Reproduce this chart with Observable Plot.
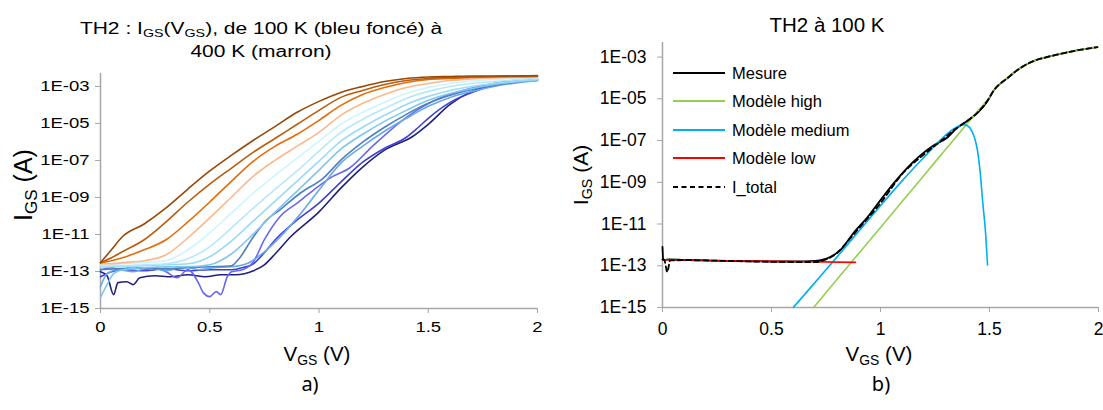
<!DOCTYPE html>
<html>
<head>
<meta charset="utf-8">
<script src="https://cdn.jsdelivr.net/npm/d3@7"></script>
<script src="https://cdn.jsdelivr.net/npm/@observablehq/plot@0.6"></script>
<style>
  body { margin: 0; background: #fff; }
  #wrap { position: relative; width: 1103px; height: 410px; overflow: hidden; font-family: "Liberation Sans", Arial, sans-serif; color: #000; background: #fff; }
  .abs { position: absolute; white-space: nowrap; }
  .sub { font-size: 0.68em; position: relative; top: 0.3em; }
  .ctr { transform: translate(-50%, -50%); }
</style>
</head>
<body>
<div id="wrap">
  <div id="chartA" class="abs" style="left:0;top:0"></div>
  <div id="chartB" class="abs" style="left:551px;top:0"></div>

  <div class="abs" style="left:261px;top:39.5px;font-size:21px;line-height:28px;text-align:center;transform:translate(-50%,-50%) scale(1,0.78)">TH2 : I<span class="sub">GS</span>(V<span class="sub">GS</span>), de 100 K (bleu foncé) à<br>400 K (marron)</div>
  <div class="abs ctr" style="left:827px;top:25px;font-size:20.5px">TH2 à 100 K</div>

  <div class="abs" style="left:23px;top:185px;font-size:25px;transform:translate(-50%,-50%) rotate(-90deg)">I<span class="sub">GS</span> (A)</div>
  <div class="abs" style="left:581px;top:175px;font-size:21px;transform:translate(-50%,-50%) rotate(-90deg)">I<span class="sub">GS</span> (A)</div>

  <div class="abs ctr" style="left:317px;top:354px;font-size:20.5px">V<span class="sub">GS</span> (V)</div>
  <div class="abs ctr" style="left:879px;top:354px;font-size:20.5px">V<span class="sub">GS</span> (V)</div>

  <div class="abs ctr" style="left:310px;top:383px;font-size:20px;font-family:'Noto Sans',sans-serif">a)</div>
  <div class="abs ctr" style="left:881px;top:383px;font-size:20px;font-family:'Noto Sans',sans-serif">b)</div>

  <div id="legendB"></div>
</div>
<script>
// ---------- axis ticks ----------
const xTickValues = [0, 0.5, 1, 1.5, 2];
const xTickLabels = ["0", "0.5", "1", "1.5", "2"];
const yTickValues = [1e-15, 1e-13, 1e-11, 1e-9, 1e-7, 1e-5, 1e-3];
const yTickLabels = ["1E-15", "1E-13", "1E-11", "1E-09", "1E-07", "1E-05", "1E-03"];

// ---------- chart a) : IGS(VGS) from 100 K to 400 K ----------
const temperaturesK = [100, 125, 150, 175, 200, 225, 250, 275, 300, 325, 350, 375, 400];

const vGrid = [0, 0.05, 0.1, 0.2, 0.3, 0.4, 0.5, 0.6, 0.7, 0.8, 0.9, 1.0, 1.1, 1.2, 1.3, 1.4, 1.5, 1.6, 1.7, 1.8, 2.0];

const V_100K = [0, 0.03, 0.06, 0.08, 0.12, 0.15, 0.18, 0.25, 0.32, 0.4, 0.48, 0.55, 0.62, 0.7, 0.75, 0.8, 0.87, 1.0, 1.1, 1.2, 1.3, 1.43, 1.5, 1.6, 1.7, 1.8, 1.9, 2.0];
const I_100K = [9.8e-14, 5.9e-14, 5.6e-15, 2.5e-14, 2.8e-14, 1.95e-14, 4.6e-14, 5.9e-14, 5.2e-14, 6.7e-14, 5.2e-14, 6.7e-14, 6.7e-14, 1.1e-13, 2.3e-13, 9.1e-13, 7.5e-12, 1.66e-10, 3.2e-9, 4.4e-8, 3.6e-7, 2.04e-6, 9.0e-6, 1.07e-4, 5.4e-4, 1.28e-3, 1.86e-3, 2.38e-3];

const V_125K = [0, 0.05, 0.1, 0.2, 0.3, 0.4, 0.5, 0.6, 0.65, 0.7, 0.75, 0.8, 0.9, 1.0, 1.1, 1.2, 1.3, 1.4, 1.45, 1.5, 1.6, 1.7, 1.8, 2.0];
const I_125K = [5.2e-14, 9.8e-14, 1.25e-13, 1.1e-13, 1.42e-13, 1.1e-13, 1.25e-13, 1.25e-13, 1.6e-13, 2.6e-13, 1.03e-12, 5.2e-12, 6.1e-11, 5.0e-10, 6.8e-9, 8.1e-8, 4.6e-7, 1.8e-6, 5.5e-6, 1.9e-5, 1.38e-4, 4.75e-4, 1.13e-3, 2.1e-3];

const V_150K = [0, 0.05, 0.1, 0.15, 0.2, 0.25, 0.3, 0.35, 0.4, 0.45, 0.47, 0.5, 0.53, 0.55, 0.58, 0.6, 0.65, 0.7, 0.75, 0.82, 0.9, 0.975, 1.05, 1.14, 1.25, 1.4, 1.56, 1.71, 1.85, 2.0];
const I_150K = [1.25e-13, 1.6e-13, 1.25e-13, 2.05e-13, 1.25e-13, 1.6e-13, 9.8e-14, 4.6e-14, 1.25e-13, 2.2e-14, 7.2e-15, 4.4e-15, 8.2e-15, 5.6e-15, 5.2e-14, 9.8e-14, 1.25e-13, 3.4e-13, 5.2e-12, 8.9e-11, 5.0e-10, 2.5e-9, 1.12e-8, 3.9e-8, 6.7e-7, 2.15e-5, 2.56e-4, 8.8e-4, 1.86e-3, 2.7e-3];

const V_175K = [0, 0.03, 0.08, 0.15, 0.22, 0.3, 0.38, 0.45, 0.52, 0.6, 0.68, 0.75, 0.8, 0.9, 1.0, 1.1, 1.2, 1.3, 1.4, 1.5, 1.6, 1.7, 1.8, 2.0];
const I_175K = [1.52e-14, 7.6e-14, 1.25e-13, 9.8e-14, 1.6e-13, 1.1e-13, 1.8e-13, 1.25e-13, 1.6e-13, 1.8e-13, 3.0e-13, 1.16e-12, 4.0e-12, 7.9e-11, 2.5e-9, 7.2e-8, 5.9e-7, 3.8e-6, 1.9e-5, 8.4e-5, 2.56e-4, 5.4e-4, 1.0e-3, 2.1e-3];

const V_200K = [0, 0.1, 0.2, 0.3, 0.4, 0.5, 0.6, 0.63, 0.7, 0.76, 0.82, 0.915, 1.02, 1.1, 1.2, 1.3, 1.4, 1.5, 1.6, 1.7, 1.8, 2.0];
const I_200K = [1.25e-13, 1.42e-13, 1.6e-13, 1.42e-13, 1.6e-13, 1.8e-13, 2.05e-13, 4.3e-13, 7.5e-12, 6.1e-11, 2.1e-10, 1.74e-9, 1.12e-8, 1.04e-7, 9.7e-7, 6.2e-6, 3.1e-5, 1.22e-4, 3.3e-4, 6.9e-4, 1.13e-3, 2.38e-3];

const V_225K = [0, 0.03, 0.06, 0.1, 0.2, 0.3, 0.4, 0.5, 0.6, 0.7, 0.8, 0.9, 1.0, 1.1, 1.2, 1.3, 1.4, 1.5, 1.6, 1.7, 1.8, 2.0];
const I_225K = [3.9e-15, 1.95e-14, 7.6e-14, 1.25e-13, 1.6e-13, 1.8e-13, 1.8e-13, 2.3e-13, 9.1e-13, 1.08e-11, 1.66e-10, 2.2e-9, 3.0e-8, 4.1e-7, 2.6e-6, 1.3e-5, 5.1e-5, 1.77e-4, 4.2e-4, 7.8e-4, 1.28e-3, 2.24e-3];

const I_250K = [1.8e-13, 1.8e-13, 1.8e-13, 2.05e-13, 2.3e-13, 2.6e-13, 6.3e-13, 4.5e-12, 5.4e-11, 6.5e-10, 7.7e-9, 9.2e-8, 1.1e-6, 6.2e-6, 2.75e-5, 1.07e-4, 2.9e-4, 6.1e-4, 1.0e-3, 1.45e-3, 2.38e-3];
const I_275K = [2.05e-13, 2.05e-13, 2.05e-13, 2.3e-13, 2.6e-13, 4.9e-13, 2.16e-12, 2.3e-11, 2.7e-10, 2.86e-9, 2.7e-8, 3.2e-7, 3.3e-6, 1.67e-5, 6.5e-5, 2.26e-4, 5.4e-4, 1.0e-3, 1.45e-3, 1.86e-3, 2.7e-3];
const I_300K = [2.3e-13, 2.3e-13, 2.6e-13, 3.0e-13, 3.8e-13, 1.49e-12, 1.22e-11, 1.46e-10, 1.74e-9, 1.62e-8, 1.33e-7, 1.1e-6, 9.0e-6, 4.0e-5, 1.38e-4, 4.2e-4, 8.8e-4, 1.45e-3, 1.98e-3, 2.38e-3, 3.05e-3];
const I_325K = [2.6e-13, 2.6e-13, 3.0e-13, 3.8e-13, 8.0e-13, 6.6e-12, 7.9e-11, 1.06e-9, 1.43e-8, 1.04e-7, 5.9e-7, 3.3e-6, 2.75e-5, 1.22e-4, 3.7e-4, 8.8e-4, 1.45e-3, 2.1e-3, 2.54e-3, 2.86e-3, 3.25e-3];
const I_350K = [3.0e-13, 3.8e-13, 5.5e-13, 1.49e-12, 5.2e-12, 4.8e-11, 5.7e-10, 7.7e-9, 9.2e-8, 5.9e-7, 2.6e-6, 1.48e-5, 9.5e-5, 3.7e-4, 8.8e-4, 1.64e-3, 2.38e-3, 2.7e-3, 3.05e-3, 3.25e-3, 3.45e-3];
const I_375K = [3.0e-13, 5.5e-13, 1.16e-12, 5.2e-12, 4.8e-11, 5.7e-10, 5.3e-9, 3.9e-8, 2.8e-7, 1.59e-6, 9.0e-6, 5.1e-5, 2.56e-4, 6.1e-4, 1.28e-3, 2.1e-3, 2.7e-3, 3.05e-3, 3.25e-3, 3.45e-3, 3.65e-3];
const I_400K = [3.0e-13, 1.49e-12, 7.5e-12, 3.7e-11, 2.7e-10, 2.86e-9, 2.7e-8, 1.93e-7, 1.24e-6, 7.0e-6, 4.0e-5, 1.56e-4, 4.75e-4, 1.0e-3, 1.86e-3, 2.7e-3, 3.25e-3, 3.45e-3, 3.65e-3, 3.65e-3, 3.9e-3];

const curveColors = ["#20207f", "#4141cf", "#6767f2", "#68a8ee", "#4f81bd", "#7fc6ef", "#9bdaf4", "#b6e8f8", "#cdf5fb", "#fab98d", "#e46c0a", "#b95c0c", "#974806"];

// ---------- chart b) : TH2 at 100 K ----------
const V_mesure = [0, 0.003, 0.01, 0.03, 0.1, 0.2, 0.3, 0.4, 0.5, 0.6, 0.7, 0.74, 0.771, 0.817, 0.876, 0.94, 1.0, 1.06, 1.124, 1.183, 1.243, 1.307, 1.353, 1.399, 1.445, 1.491, 1.518, 1.583, 1.642, 1.702, 1.78, 1.885, 1.995];
const I_mesure = [8e-13, 2.2e-13, 1.9e-13, 2.0e-13, 1.9e-13, 1.8e-13, 1.7e-13, 1.65e-13, 1.6e-13, 1.6e-13, 1.7e-13, 2.0e-13, 2.7e-13, 5.8e-13, 3.7e-12, 2.1e-11, 1.4e-10, 8.9e-10, 5.1e-9, 1.95e-8, 5.8e-8, 1.4e-7, 4.2e-7, 8.9e-7, 2.1e-6, 7.9e-6, 2.4e-5, 1.0e-4, 3.0e-4, 6.5e-4, 1.1e-3, 1.95e-3, 3.0e-3];

const V_high = [0.693, 0.8, 0.9, 1.0, 1.1, 1.2, 1.3, 1.38, 1.44, 1.491, 1.518, 1.583, 1.642, 1.702, 1.78, 1.885, 1.995];
const I_high = [1e-15, 2.2e-14, 3.9e-13, 6.9e-12, 1.23e-10, 2.2e-9, 3.9e-8, 3.9e-7, 2.2e-6, 9.0e-6, 2.4e-5, 1.0e-4, 3.0e-4, 6.5e-4, 1.1e-3, 1.95e-3, 3.0e-3];

const V_medium = [0.6, 0.7, 0.8, 0.9, 1.0, 1.1, 1.2, 1.28, 1.33, 1.36, 1.38, 1.40, 1.413, 1.43, 1.445, 1.458, 1.468, 1.482, 1.491];
const I_medium = [1e-15, 1.6e-14, 2.6e-13, 4.5e-12, 7.5e-11, 1.2e-9, 1.6e-8, 1.2e-7, 3.3e-7, 5e-7, 5.8e-7, 5.0e-7, 3.7e-7, 1.5e-7, 3.3e-8, 2.5e-9, 1.4e-10, 3.7e-12, 1.1e-13];

const V_low = [0, 0.3, 0.6, 0.885];
const I_low = [1.95e-13, 1.75e-13, 1.6e-13, 1.45e-13];

const V_total = [0, 0.008, 0.022, 0.035, 0.1, 0.3, 0.5, 0.7, 0.75, 0.8, 0.85, 0.9, 1.0, 1.1, 1.2, 1.28, 1.33, 1.38, 1.42, 1.445, 1.491, 1.518, 1.583, 1.642, 1.702, 1.78, 1.885, 1.995];
const I_total = [2.0e-13, 1.9e-13, 5e-14, 1.8e-13, 1.85e-13, 1.7e-13, 1.55e-13, 1.5e-13, 2.0e-13, 4.0e-13, 1.5e-12, 6e-12, 1.0e-10, 2.5e-9, 2.2e-8, 1.0e-7, 2.8e-7, 6.5e-7, 1.3e-6, 2.2e-6, 8.3e-6, 2.4e-5, 1.0e-4, 3.0e-4, 6.5e-4, 1.1e-3, 1.95e-3, 3.0e-3];

const seriesNamesB = ["Mesure", "Modèle high", "Modèle medium", "Modèle low", "I_total"];
const seriesColorsB = ["#000000", "#92d050", "#00b0f0", "#ff0000", "#000000"];

// ---------- build tables ----------
const seriesA = [
  [100, V_100K, I_100K], [125, V_125K, I_125K], [150, V_150K, I_150K], [175, V_175K, I_175K],
  [200, V_200K, I_200K], [225, V_225K, I_225K], [250, vGrid, I_250K], [275, vGrid, I_275K],
  [300, vGrid, I_300K], [325, vGrid, I_325K], [350, vGrid, I_350K], [375, vGrid, I_375K], [400, vGrid, I_400K]
];
const rowsA = [];
for (const [T, vs, is] of seriesA) vs.forEach((v, i) => rowsA.push({T, V: v, I: is[i]}));

const toRows = (vs, is) => vs.map((v, i) => ({V: v, I: is[i]}));
const rowsMesure = toRows(V_mesure, I_mesure);
const rowsHigh = toRows(V_high, I_high);
const rowsMedium = toRows(V_medium, I_medium);
const rowsLow = toRows(V_low, I_low);
const rowsTotal = toRows(V_total, I_total);

const fmtX = d => xTickLabels[xTickValues.findIndex(v => Math.abs(v - d) < 1e-9)];
const fmtY = d => yTickLabels[yTickValues.findIndex(v => Math.abs(Math.log10(v) - Math.log10(d)) < 1e-6)];

const gray = "#a6a6a6";
const font = "'Liberation Sans', Arial, sans-serif";

// ---------- chart a ----------
const chartA = Plot.plot({
  width: 551, height: 410,
  marginLeft: 100, marginRight: 14, marginTop: 73, marginBottom: 102,
  x: {domain: [0, 2]},
  y: {type: "log", domain: [1e-15, 5e-3]},
  color: {type: "ordinal", domain: temperaturesK, range: curveColors},
  style: {fontFamily: font, fontSize: "18.5px", color: "#000", background: "#fff", overflow: "visible"},
  marks: [
    Plot.ruleY([1e-15], {stroke: gray, strokeWidth: 1.5}),
    Plot.ruleX([0], {stroke: gray, strokeWidth: 1.5}),
    Plot.axisX(xTickValues, {tickFormat: fmtX, tickSize: 5, tickPadding: 8, stroke: gray, fill: "#000", fontSize: 18.5, label: null}),
    Plot.axisY(yTickValues, {tickFormat: fmtY, tickSize: 5, tickPadding: 6, stroke: gray, fill: "#000", fontSize: 18.5, label: null}),
    Plot.line(rowsA, {x: "V", y: "I", z: "T", stroke: "T", strokeWidth: 1.6, curve: "monotone-x"})
  ]
});
document.getElementById("chartA").appendChild(chartA);

// vertical squish of chart a tick labels (as in the reference)
chartA.querySelectorAll("text").forEach(t => {
  const tr = t.getAttribute("transform");
  if (tr) t.setAttribute("transform", tr + " scale(1,0.82)");
  else {
    const x = parseFloat(t.getAttribute("x")) || 0, y = parseFloat(t.getAttribute("y")) || 0;
    t.setAttribute("transform", `translate(${x},${y}) scale(1,0.82) translate(${-x},${-y})`);
  }
});

// ---------- chart b ----------
const chartB = Plot.plot({
  width: 552, height: 410,
  marginLeft: 111, marginRight: 5, marginTop: 42, marginBottom: 103,
  x: {domain: [0, 2]},
  y: {type: "log", domain: [1e-15, 5e-3]},
  style: {fontFamily: font, fontSize: "17.5px", color: "#000", background: "#fff", overflow: "visible"},
  marks: [
    Plot.ruleY([1e-15], {stroke: gray, strokeWidth: 1.5}),
    Plot.ruleX([0], {stroke: gray, strokeWidth: 1.5}),
    Plot.axisX(xTickValues, {tickFormat: fmtX, tickSize: 5, tickPadding: 10, stroke: gray, fill: "#000", fontSize: 17.5, label: null}),
    Plot.axisY(yTickValues, {tickFormat: fmtY, tickSize: 5, tickPadding: 11, stroke: gray, fill: "#000", fontSize: 17.5, label: null}),
    Plot.line(rowsMesure, {x: "V", y: "I", stroke: seriesColorsB[0], strokeWidth: 1.8, curve: "monotone-x"}),
    Plot.line(rowsHigh, {x: "V", y: "I", stroke: seriesColorsB[1], strokeWidth: 1.6, curve: "monotone-x"}),
    Plot.line(rowsMedium, {x: "V", y: "I", stroke: seriesColorsB[2], strokeWidth: 1.6, curve: "monotone-x"}),
    Plot.line(rowsLow, {x: "V", y: "I", stroke: seriesColorsB[3], strokeWidth: 1.6, curve: "monotone-x"}),
    Plot.line(rowsTotal, {x: "V", y: "I", stroke: seriesColorsB[4], strokeWidth: 1.8, strokeDasharray: "5,3.5", curve: "monotone-x"})
  ]
});
document.getElementById("chartB").appendChild(chartB);

// ---------- legend of chart b ----------
const legendRowsY = [73, 101, 130, 158, 187];
const legend = document.getElementById("legendB");
seriesNamesB.forEach((name, i) => {
  const row = document.createElement("div");
  row.className = "abs";
  row.style.cssText = `left:673px;top:${legendRowsY[i] - 11}px;height:22px;display:flex;align-items:center;font-size:16.5px;`;
  const dash = name === "I_total" ? 'stroke-dasharray="5,3.5"' : "";
  row.innerHTML = `<svg width="52" height="6" style="display:block"><line x1="0" x2="52" y1="3" y2="3" stroke="${seriesColorsB[i]}" stroke-width="1.8" ${dash}/></svg><span style="margin-left:7px">${name}</span>`;
  legend.appendChild(row);
});
</script>
</body>
</html>
